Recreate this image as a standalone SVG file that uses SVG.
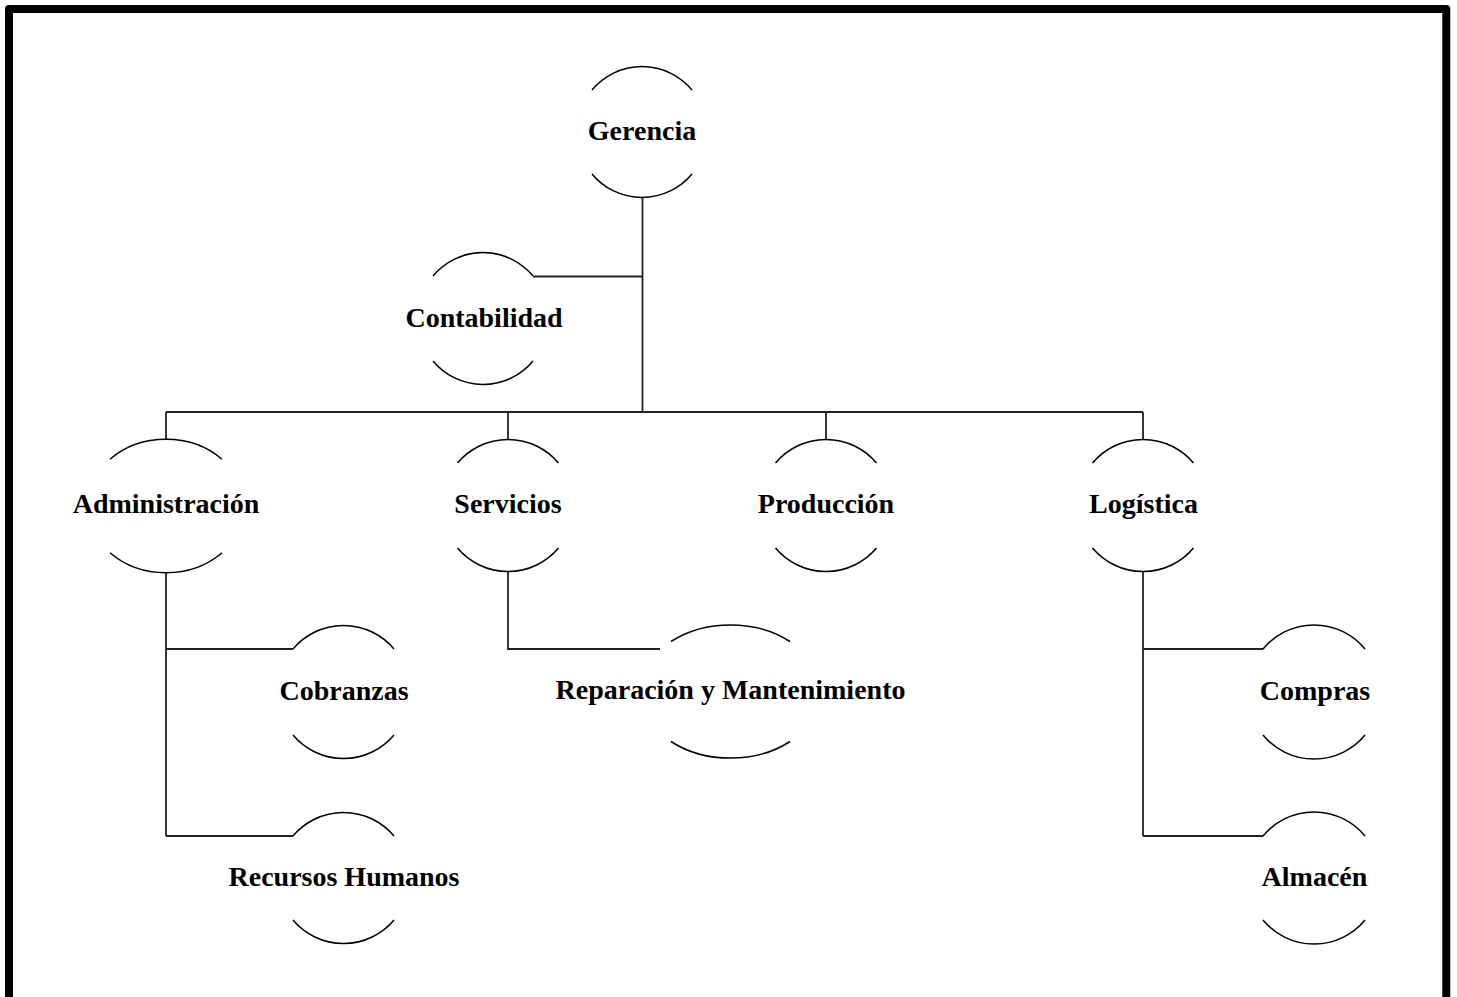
<svg xmlns="http://www.w3.org/2000/svg" width="1457" height="997" viewBox="0 0 1457 997">
<style>
.arc{fill:none;stroke:#000;stroke-width:1.5}
.con{fill:none;stroke:#222;stroke-width:1.8}
.lbl{font-family:"Liberation Serif","Times New Roman",serif;font-weight:bold;font-size:28px;fill:#000;text-anchor:middle}
</style>
<rect x="0" y="0" width="1457" height="997" fill="#fff"/>
<rect x="9" y="9" width="1437.3" height="1010" fill="none" stroke="#000" stroke-width="8" stroke-linejoin="round"/>
<g id="connectors">
<path class="con" d="M642.5 198 V412"/>
<path class="con" d="M533 276.5 H642.5"/>
<path class="con" d="M166 412 H1143"/>
<path class="con" d="M166 412 V439 M508 412 V439 M826 412 V439 M1143 412 V439"/>
<path class="con" d="M166 573 V836 M166 649 H293 M166 836 H293"/>
<path class="con" d="M508 572 V649 H660"/>
<path class="con" d="M1143 572 V836 M1143 649 H1263 M1143 836 H1263"/>
</g>
<g id="gerencia">
<path class="arc" d="M592 90 A65 65 0 0 1 692 90"/>
<path class="arc" d="M592 174 A65 65 0 0 0 692 174"/>
<text class="lbl" x="642" y="140">Gerencia</text>
</g>
<g id="contabilidad">
<path class="arc" d="M433 276 A65 65 0 0 1 533 276"/>
<path class="arc" d="M433 361 A65 65 0 0 0 533 361"/>
<text class="lbl" x="484" y="327">Contabilidad</text>
</g>
<g id="administracion">
<path class="arc" d="M110 459.3 A78.5 66.7 0 0 1 222 459.3"/>
<path class="arc" d="M110 552.7 A78.5 66.7 0 0 0 222 552.7"/>
<text class="lbl" x="166" y="513">Administración</text>
</g>
<g id="servicios">
<path class="arc" d="M457.5 463 A66 66 0 0 1 558.5 463"/>
<path class="arc" d="M457.5 548 A66 66 0 0 0 558.5 548"/>
<text class="lbl" x="508" y="513">Servicios</text>
</g>
<g id="produccion">
<path class="arc" d="M775.5 463 A66 66 0 0 1 876.5 463"/>
<path class="arc" d="M775.5 548 A66 66 0 0 0 876.5 548"/>
<text class="lbl" x="826" y="513">Producción</text>
</g>
<g id="logistica">
<path class="arc" d="M1092.5 463 A66 66 0 0 1 1193.5 463"/>
<path class="arc" d="M1092.5 548 A66 66 0 0 0 1193.5 548"/>
<text class="lbl" x="1143.5" y="513">Logística</text>
</g>
<g id="cobranzas">
<path class="arc" d="M293 649 A66 66 0 0 1 394 649"/>
<path class="arc" d="M293 735 A66 66 0 0 0 394 735"/>
<text class="lbl" x="344" y="700">Cobranzas</text>
</g>
<g id="recursos-humanos">
<path class="arc" d="M293 836 A66 66 0 0 1 394 836"/>
<path class="arc" d="M293 920 A66 66 0 0 0 394 920"/>
<text class="lbl" x="344" y="886">Recursos Humanos</text>
</g>
<g id="reparacion">
<path class="arc" d="M671 641.5 A90 66.5 0 0 1 790 641.5"/>
<path class="arc" d="M671 741.5 A90 66.5 0 0 0 790 741.5"/>
<text class="lbl" x="730.5" y="699">Reparación y Mantenimiento</text>
</g>
<g id="compras">
<path class="arc" d="M1263 649 A66 66 0 0 1 1365 649"/>
<path class="arc" d="M1263 735 A66 66 0 0 0 1365 735"/>
<text class="lbl" x="1315" y="700">Compras</text>
</g>
<g id="almacen">
<path class="arc" d="M1263 836 A66 66 0 0 1 1365 836"/>
<path class="arc" d="M1263 920 A66 66 0 0 0 1365 920"/>
<text class="lbl" x="1314.5" y="886">Almacén</text>
</g>
</svg>
